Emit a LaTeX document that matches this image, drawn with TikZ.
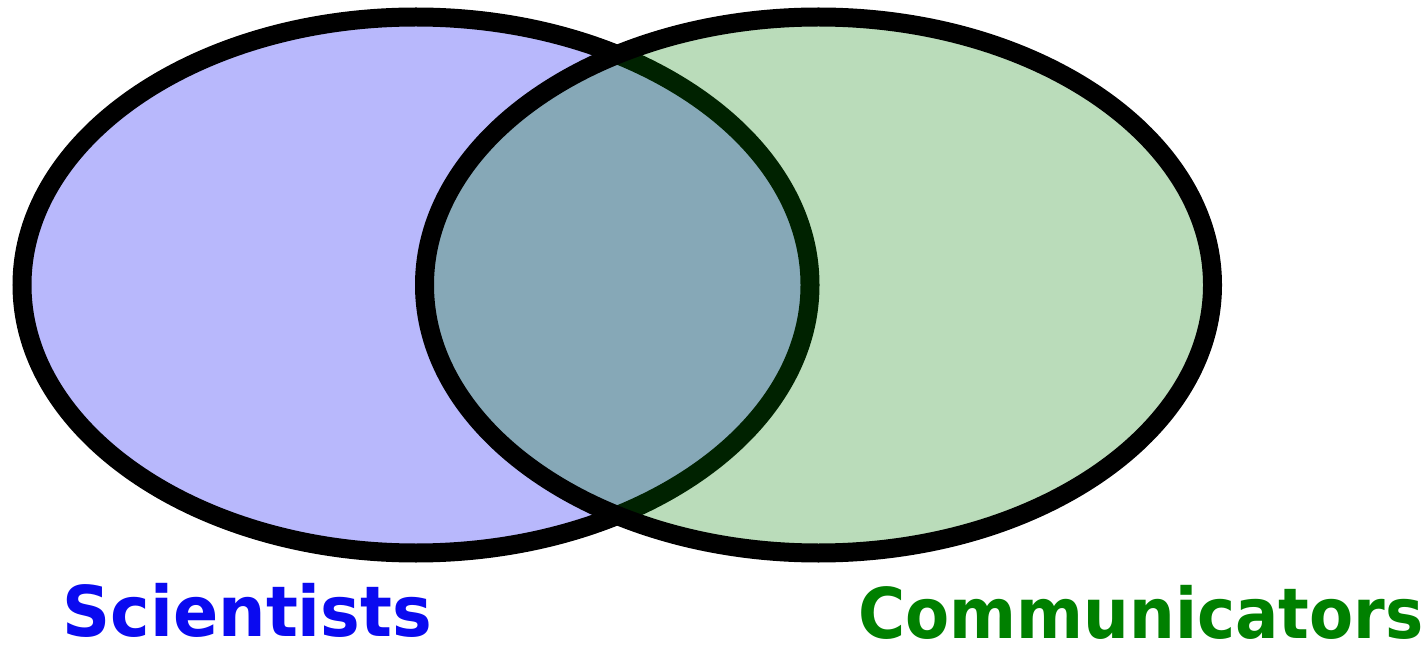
\documentclass[tikz,border=0pt]{standalone}
\usepackage{fontspec}
\setmainfont{DejaVu Sans}
\definecolor{leftfill}{HTML}{B8B8FC}
\definecolor{commgreen}{HTML}{008000}
\definecolor{sciblue}{HTML}{0A0AF0}
\tikzset{
  ring/.style={draw=black, line width=19pt},
  label/.style={anchor=base, inner sep=0pt, font=\bfseries\fontsize{70}{84}\selectfont}
}
\begin{document}
\begin{tikzpicture}[x=1pt, y=-1pt]
\useasboundingbox (0,0) rectangle (1427,652);
\fill[white] (0,0) rectangle (1427,652);
\draw[ring, fill=leftfill] (416,285) ellipse [x radius=394, y radius=268];
\draw[ring, fill=commgreen, fill opacity=0.27] (818.5,285) ellipse [x radius=394, y radius=268];
\node[label, text=sciblue] (sci) at (247.5,636) {\scalebox{0.953}[1]{Scientists}};
\node[label, text=commgreen] (comm) at (1141,638) {\scalebox{0.918}[1]{Communicators}};
\end{tikzpicture}
\end{document}
